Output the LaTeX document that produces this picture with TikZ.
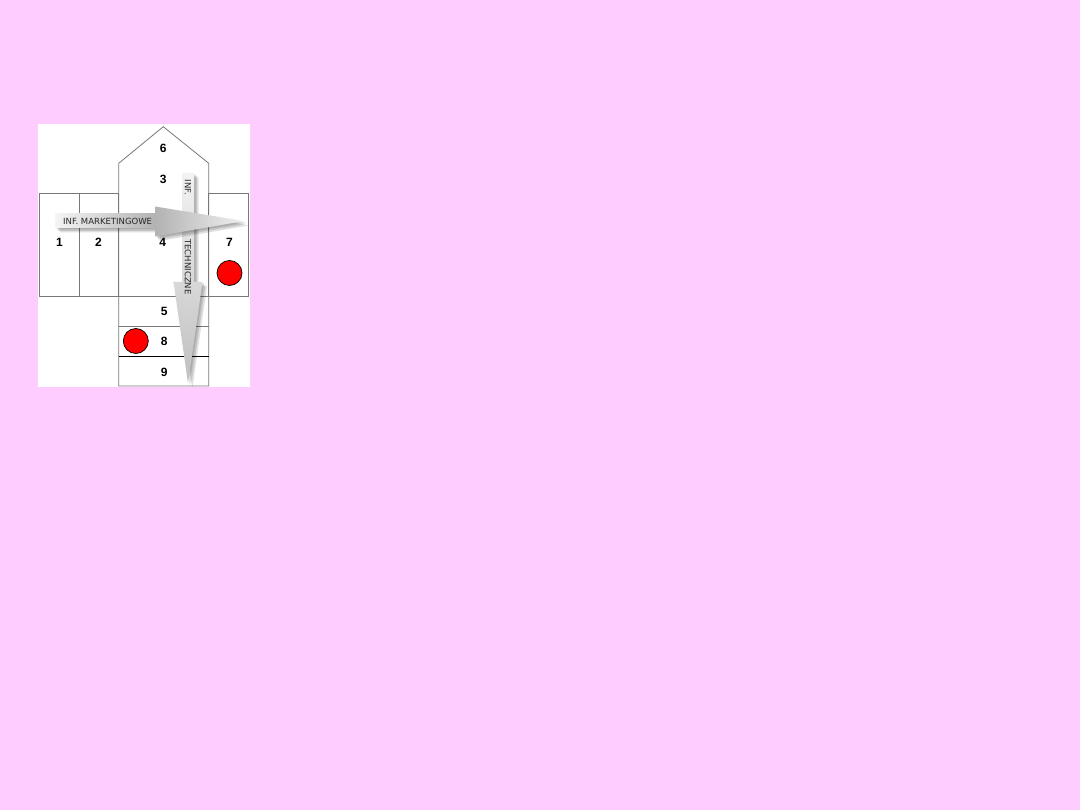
\documentclass[tikz,border=0pt]{standalone}
\usepackage{fontspec}
\setmainfont{Liberation Sans}
\newfontfamily\arrowfont{DejaVu Sans}
\usepackage{xcolor}
\usepackage{tikz}
\definecolor{bgpink}{RGB}{255,204,255}
\definecolor{cellline}{RGB}{120,120,120}

\begin{document}
\begin{tikzpicture}[x=1pt,y=-1pt,
    cell/.style={draw=cellline,line width=0.8pt},
    num/.style={font=\bfseries\fontsize{12}{12}\selectfont,inner sep=0pt},
    dot/.style={circle,draw=black,line width=0.7pt,fill=red,minimum size=25pt,inner sep=0pt},
    arrtext/.style={font=\arrowfont\fontsize{8.5}{8.5}\selectfont,inner sep=0pt,text=black!85},
    arrshadow/.style={fill=black,opacity=0.12}]
    \useasboundingbox (0,0) rectangle (1080,810);
    \fill[bgpink] (0,0) rectangle (1080,810);
    \fill[white] (38,124) rectangle (250,387);
    % house outline and cells
    \coordinate (roofL) at (118.7,163.3);
    \coordinate (roofT) at (163.3,126.7);
    \coordinate (roofR) at (208.7,163.3);
    \coordinate (baseL) at (118.7,386);
    \coordinate (baseR) at (208.7,386);
    \draw[cell] (baseL) -- (roofL) -- (roofT) -- (roofR) -- (baseR) -- cycle;
    \draw[cell] (39,193.3) rectangle (118.7,296);
    \draw[cell] (79.3,193.3) -- (79.3,296);
    \draw[cell] (208.7,193.3) rectangle (248.3,296);
    \draw[cell] (118.7,296) -- (208.7,296);
    \draw[cell] (118.7,326.7) -- (208.7,326.7);
    \draw[black,line width=0.8pt] (118.7,356.3) -- (208.7,356.3);
    % numbers
    \node[num] (n6) at (163.3,148.5) {6};
    \node[num] (n3) at (163.3,179.5) {3};
    \node[num] (n1) at (59.5,242.5) {1};
    \node[num] (n2) at (98.5,242.5) {2};
    \node[num] (n4) at (162.8,242.5) {4};
    \node[num] (n7) at (229.5,242.5) {7};
    \node[num] (n5) at (164.3,311) {5};
    \node[num] (n8) at (164.3,341) {8};
    \node[num] (n9) at (164.3,372) {9};
    % red dots
    \node[dot] (dot7) at (229.5,273) {};
    \node[dot] (dot8) at (135.8,341) {};
    % technical information arrow
    \foreach \s in {1.5,3,4.5}
      \fill[arrshadow,shift={(\s,\s)}]
        (182,173) -- (194,173) -- (194,282) -- (202.5,282) -- (188,383) -- (173.5,282) -- (182,282) -- cycle;
    \shade[top color=gray!10,bottom color=gray!50]
      (182,173) -- (194,173) -- (194,282) -- (202.5,282) -- (188,383) -- (173.5,282) -- (182,282) -- cycle;
    \node[arrtext,rotate=-90] (techA) at (188,187.5) {INF.};
    \node[arrtext,rotate=-90] (techB) at (188,267) {TECHNICZNE};
    % marketing information arrow
    \foreach \s in {1.5,3,4.5}
      \fill[arrshadow,shift={(\s,\s)}]
        (55,214) -- (155,214) -- (155,206.5) -- (244,221) -- (155,236.5) -- (155,228) -- (55,228) -- cycle;
    \shade[left color=gray!8,right color=gray!60]
      (55,214) -- (155,214) -- (155,228) -- (55,228) -- cycle;
    \shade[left color=gray!60,right color=gray!12]
      (155,206.5) -- (244,221) -- (155,236.5) -- cycle;
    \node[arrtext,anchor=west] (mark) at (63,221) {INF. MARKETINGOWE};
\end{tikzpicture}
\end{document}
